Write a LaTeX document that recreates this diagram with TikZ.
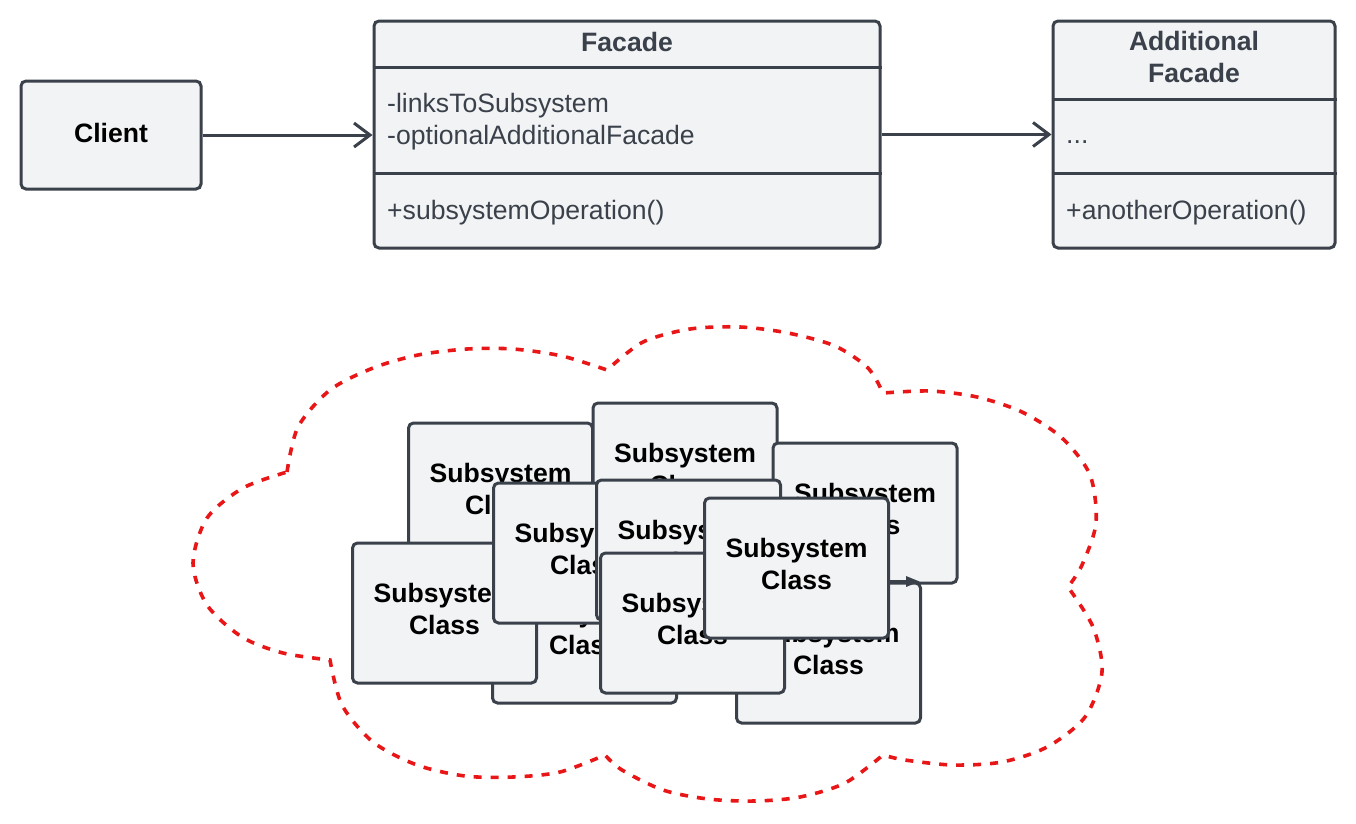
\documentclass[tikz,border=0pt]{standalone}
\usepackage{fontspec}
\setmainfont{Liberation Sans}
\usetikzlibrary{arrows.meta}
\definecolor{boxfill}{RGB}{242,243,245}
\definecolor{boxline}{RGB}{58,65,74}
\definecolor{cloudred}{RGB}{232,22,22}

\begin{document}
\begin{tikzpicture}[
  x=1pt, y=-1pt,
  classbox/.style={draw=boxline, fill=boxfill, line width=3pt, rounded corners=5pt, inner sep=0pt},
  classtitle/.style={font=\fontsize{26.6}{32}\selectfont\bfseries, text=boxline, align=center, inner sep=0pt},
  member/.style={font=\fontsize{26.6}{32}\selectfont, text=boxline, align=left, inner sep=0pt},
  subbox/.style={classbox, minimum width=184pt, minimum height=140pt, align=center, font=\fontsize{26.6}{32}\selectfont\bfseries},
  arrow/.style={draw=boxline, line width=3pt, -{Straight Barb[length=16pt,width=24pt]}},
  cloudline/.style={draw=cloudred, line width=3.6pt, dash pattern=on 8pt off 9pt}
]
\useasboundingbox (0,0) rectangle (1356,823);

% top row
\node[classbox, minimum width=180pt, minimum height=108pt, font=\fontsize{26.6}{32}\selectfont\bfseries] (client) at (111,135) {Client\rule[-4pt]{0pt}{4pt}};

\node[classbox, minimum width=506pt, minimum height=227pt] (facade) at (627,134.5) {};
\draw[boxline, line width=3pt] ([yshift=-48pt]facade.north west) -- ([yshift=-48pt]facade.north east);
\draw[boxline, line width=3pt] ([yshift=-154pt]facade.north west) -- ([yshift=-154pt]facade.north east);
\node[classtitle, anchor=base] (facadeName) at (627,51) {Facade};
\node[member, anchor=west] (facadeAttr) at (387,122) {-linksToSubsystem\\-optionalAdditionalFacade};
\node[member, anchor=base west] (facadeOps) at (387,219) {+subsystemOperation()};

\node[classbox, minimum width=282pt, minimum height=227pt] (addFacade) at (1194,134.5) {};
\draw[boxline, line width=3pt] ([yshift=-80pt]addFacade.north west) -- ([yshift=-80pt]addFacade.north east);
\draw[boxline, line width=3pt] ([yshift=-154pt]addFacade.north west) -- ([yshift=-154pt]addFacade.north east);
\node[classtitle] (addFacadeName) at (1194,57) {Additional\\Facade};
\node[member, anchor=base west] (addFacadeAttr) at (1066,143) {...};
\node[member, anchor=base west] (addFacadeOps) at (1066,219) {+anotherOperation()};

\draw[arrow] (client.east) -- (client.east -| facade.west);
\draw[arrow] (facade.east) -- (addFacade.west);

% subsystem cloud
\draw[cloudline] plot[smooth] coordinates {(287,472) (298,427) (330,390) (373,368) (418,355) (467,349) (513,349) (562,356) (607,370)}
  -- plot[smooth] coordinates {(607,370) (643,342) (690,329) (740,327) (788,333) (835,346) (868,368) (883,393)}
  -- plot[smooth] coordinates {(883,393) (930,391) (977,397) (1022,412) (1062,438) (1090,475) (1096,523) (1082,565) (1068,587)}
  -- plot[smooth] coordinates {(1068,587) (1093,627) (1102,672) (1085,717) (1047,747) (1002,762) (953,765) (905,760) (883,755)}
  -- plot[smooth] coordinates {(883,755) (845,783) (800,797) (755,801) (708,799) (663,790) (622,770) (605,755)}
  -- plot[smooth] coordinates {(605,755) (560,772) (513,777) (465,776) (417,765) (373,742) (342,705) (330,660)}
  -- plot[smooth] coordinates {(330,660) (283,653) (242,637) (207,605) (193,563) (207,518) (243,488) (287,472)};

% subsystem classes, back to front
\node[subbox] (sub1) at (500.5,493) {Subsystem\\Class\rule[-8pt]{0pt}{8pt}};
\node[subbox] (sub2) at (685,473) {Subsystem\\Class\rule[-8pt]{0pt}{8pt}};
\node[subbox] (sub3) at (584.5,633) {Subsystem\\Class\rule[-8pt]{0pt}{8pt}};
\node[subbox] (sub4) at (444.5,613) {Subsystem\\Class\rule[-8pt]{0pt}{8pt}};
\node[subbox] (sub5) at (585.5,553) {Subsystem\\Class\rule[-8pt]{0pt}{8pt}};
\node[subbox] (sub6) at (865,513) {Subsystem\\Class\rule[-8pt]{0pt}{8pt}};
\node[subbox] (sub7) at (688.5,550) {Subsystem\\Class\rule[-8pt]{0pt}{8pt}};
\node[subbox] (sub8) at (828.5,653) {Subsystem\\Class\rule[-8pt]{0pt}{8pt}};
\node[subbox] (sub9) at (692.5,623) {Subsystem\\Class\rule[-8pt]{0pt}{8pt}};
\node[subbox] (sub10) at (796.5,568) {Subsystem\\Class\rule[-8pt]{0pt}{8pt}};
\draw[boxline, line width=3pt, -{Triangle[length=14pt,width=10pt]}] (sub10.east |- sub8.north) -- ([xshift=-2pt]sub8.north east);
\end{tikzpicture}
\end{document}
